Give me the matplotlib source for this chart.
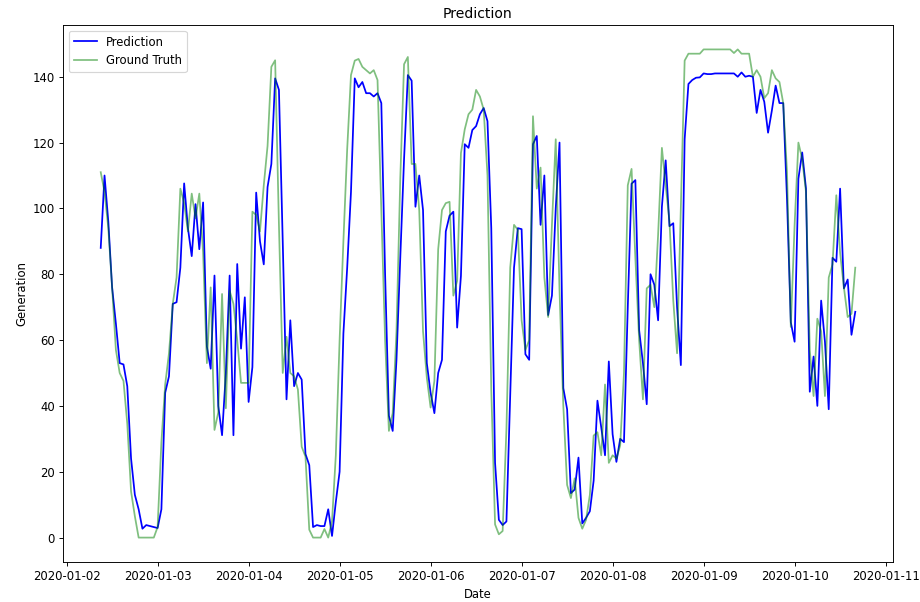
import numpy as np
import pandas as pd
import matplotlib

matplotlib.use("Agg")
import matplotlib.pyplot as plt

# hourly values, 2020-01-02 09:00 .. 2020-01-10 16:00
pred_0102 = [88, 110, 96, 76, 65, 53, 52.6, 46, 24, 13, 8.6, 2.7, 3.8, 3.5, 3.2]
truth_0102 = [111, 105, 94, 76, 57, 50, 47.6, 34.6, 14, 6.5, 0, 0, 0, 0, 0]

pred_0103 = [2.9, 8.6, 44, 49, 71, 71.5, 82, 107.6, 94, 85.5, 101.3, 87.6,
             101.8, 58, 51.3, 79.6, 40, 31.1, 50, 79.6, 31.1, 83.1, 57.4, 73]
truth_0103 = [3.2, 29, 46.5, 56, 71, 79, 106, 101.6, 93, 104.5, 97, 104.5,
              86.5, 53, 76, 32.7, 38, 74, 39.3, 75, 71, 60, 47, 47]

pred_0104 = [41.2, 51.8, 104.8, 90, 83, 106.5, 113.5, 139.5, 136, 90, 42, 66,
             46, 50, 48, 25.4, 22, 3.2, 3.8, 3.5, 3.5, 8.6, 0.5, 10.8]
truth_0104 = [47, 99, 98, 93, 107, 119, 143, 145, 95, 50, 61, 50,
              49, 45, 27.6, 24.6, 2.4, 0, 0, 0, 2.6, 0, 5, 25]

pred_0105 = [20, 62, 82, 105, 139.5, 136.8, 138.4, 135, 135, 134, 135, 132,
             80, 37, 32.4, 54, 85, 115, 140.5, 138.8, 100.5, 110, 99.5, 53]
truth_0105 = [60, 90, 118, 140.5, 144.9, 145.4, 143, 142, 141, 142, 139, 100,
              60, 32.4, 37.8, 62.7, 109, 143.8, 146, 113.5, 113.5, 99.5, 62.7, 48.6]

pred_0106 = [44, 37.8, 50, 54, 93, 97.8, 99, 63.8, 79.5, 119.5, 118.4, 123.8,
             125, 128.6, 130.5, 126.5, 94, 22.7, 5.4, 3.8, 4.9, 43, 82, 94]
truth_0106 = [39.5, 47.6, 87.6, 99.5, 101.6, 102, 73.5, 78, 116.8, 124, 128.6, 130,
              136, 134, 130, 110, 45, 4, 1, 2, 33, 82, 95, 93.5]

pred_0107 = [93.7, 55.7, 54, 119.5, 122, 95, 110, 67.6, 73.5, 100, 120, 45.4,
             39, 13.5, 14.6, 24.3, 4.3, 6, 8, 17.3, 41.6, 33.5, 25, 53.5]
truth_0107 = [66, 57, 60, 128, 106, 112.4, 79, 67, 95, 121, 75, 40,
              16, 12, 18, 6, 2.7, 5.4, 13, 31, 32, 25, 46.5, 22.7]

pred_0108 = [31.4, 23, 30, 29, 70, 107.5, 108.6, 63, 53, 40.5, 80, 76.8,
             66, 100.5, 114.6, 94.6, 95.5, 70, 52.4, 121, 137.8, 139, 139.7, 139.8]
truth_0108 = [25, 24, 28, 50, 107, 112, 85, 60, 42, 75.7, 76.8, 70,
              92, 118.4, 107, 96, 72, 56, 100, 144.9, 147, 147, 147, 147]

pred_0109 = [141, 140.8, 140.8, 141, 141, 141, 141, 141, 141, 140, 141.3, 140,
             140.3, 140, 129, 136, 132.4, 123, 129.7, 137.3, 132, 132, 102.7, 65.4]
truth_0109 = [148.3, 148.3, 148.3, 148.3, 148.3, 148.3, 148.3, 148.3, 147.2, 148.3, 147, 147,
              147, 140, 142, 140, 133.5, 135, 142, 139.5, 138.4, 132, 111, 64]

pred_0110 = [59.5, 109, 117, 106, 44.3, 55, 40, 72, 59.5, 39, 85, 83.8,
             106, 75.7, 78.4, 61.6, 68.6]
truth_0110 = [95, 120, 115, 105, 57, 43, 66.5, 62.7, 43, 79, 83, 104,
              86.5, 76, 67, 68, 82]


def main():
    prediction = np.array(pred_0102 + pred_0103 + pred_0104 + pred_0105 + pred_0106
                          + pred_0107 + pred_0108 + pred_0109 + pred_0110)
    truth = np.array(truth_0102 + truth_0103 + truth_0104 + truth_0105 + truth_0106
                     + truth_0107 + truth_0108 + truth_0109 + truth_0110)
    dates = pd.date_range("2020-01-02 09:00", periods=len(prediction), freq="h")

    dpi = 84
    fig = plt.figure(figsize=(921 / dpi, 602 / dpi), dpi=dpi)
    ax = fig.add_axes([63 / 921, 40 / 602, 830 / 921, 537 / 602])
    ax.plot(dates, prediction, color="blue", label="Prediction")
    ax.plot(dates, truth, color="green", alpha=0.5, label="Ground Truth")
    ax.set_title("Prediction")
    ax.set_xlabel("Date")
    ax.set_ylabel("Generation")
    ax.legend(loc="upper left")
    fig.savefig("out.png", dpi=dpi)


if __name__ == "__main__":
    main()
